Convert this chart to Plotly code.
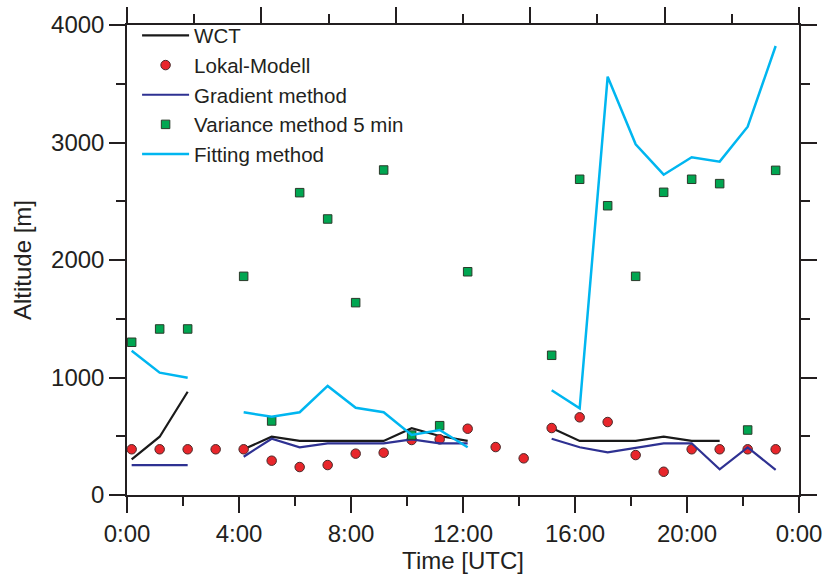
import plotly.graph_objects as go

# --- data ---------------------------------------------------------------
times = ["0:10", "1:10", "2:10", "3:10", "4:10", "5:10", "6:10", "7:10",
         "8:10", "9:10", "10:10", "11:10", "12:10", "13:10", "14:10", "15:10",
         "16:10", "17:10", "18:10", "19:10", "20:10", "21:10", "22:10", "23:10"]

wct = [304, 496, 879, None, 389, 496, 460, 460, 460, 460, 568, 502,
       460, None, None, 570, 460, 460, 460, 496, 460, 460, None, None]
lokal = [389, 389, 389, 389, 389, 292, 238, 255, 352, 360, 468, 474,
         564, 408, 312, 570, 661, 621, 340, 198, 389, 389, 389, 389]
gradient = [255, 255, 255, None, 326, 479, 406, 440, 440, 440, 474, 440,
            440, None, None, 479, 406, 363, 403, 440, 440, 219, 406, 213]
variance = [1300, 1413, 1413, None, 1861, 630, 2573, 2349, 1637, 2766, 510, 590,
            1900, None, None, 1189, 2687, 2462, 1861, 2576, 2687, 2650, 553, 2763]
fitting = [1228, 1041, 998, None, 704, 666, 704, 928, 743, 704, 511, 553,
           406, None, None, 891, 738, 3560, 2985, 2726, 2874, 2837, 3134, 3821]

tick_hours = [0, 4, 8, 12, 16, 20, 24]
tick_labels = ["0:00", "4:00", "8:00", "12:00", "16:00", "20:00", "0:00"]
alt_ticks = [0, 1000, 2000, 3000, 4000]

# ------------------------------------------------------------------------
def to_hours(s):
    h, m = s.split(":")
    return int(h) + int(m) / 60.0

x = [to_hours(t) for t in times]

INK = "#231f20"
FONT = "Liberation Sans, Arial, sans-serif"

fig = go.Figure()
fig.add_trace(go.Scatter(x=x, y=wct, mode="lines", name="WCT",
                         line=dict(color="#1a1a1a", width=2.2), connectgaps=False))
fig.add_trace(go.Scatter(x=x, y=lokal, mode="markers", name="Lokal-Modell",
                         marker=dict(symbol="circle", size=9.5, color="#e8262b",
                                     line=dict(color="#4a2a2a", width=1))))
fig.add_trace(go.Scatter(x=x, y=gradient, mode="lines", name="Gradient method",
                         line=dict(color="#2e3192", width=2.2), connectgaps=False))
fig.add_trace(go.Scatter(x=x, y=variance, mode="markers", name="Variance method 5 min",
                         marker=dict(symbol="square", size=8.5, color="#00a651",
                                     line=dict(color="#2a3a2a", width=1))))
fig.add_trace(go.Scatter(x=x, y=fitting, mode="lines", name="Fitting method",
                         line=dict(color="#00b6f0", width=2.5), connectgaps=False))
# empty trace so the mirrored top/right frame axes get drawn with their ticks
fig.add_trace(go.Scatter(x=[None], y=[None], xaxis="x2", yaxis="y2", mode="lines",
                         showlegend=False, hoverinfo="skip"))

axis_common = dict(showline=True, linecolor=INK, linewidth=1.5, ticks="outside",
                   tickcolor=INK, tickwidth=1.5, ticklen=16, showgrid=False,
                   zeroline=False)
minor_common = dict(ticks="outside", ticklen=9, tickcolor=INK, tickwidth=1.5, showgrid=False)

fig.update_layout(
    width=828, height=577,
    margin=dict(l=127, r=29, t=25, b=82, autoexpand=False),
    paper_bgcolor="white", plot_bgcolor="white",
    font=dict(family=FONT, color=INK, size=24),
    xaxis=dict(range=[0, 24], tickvals=tick_hours, ticktext=tick_labels,
               tickfont=dict(size=24), title=dict(text="Time [UTC]", font=dict(size=24), standoff=6),
               minor=dict(dtick=2, tick0=0, **minor_common),
               **axis_common),
    yaxis=dict(range=[0, 4000], tickvals=alt_ticks,
               tickfont=dict(size=24), title=dict(text="Altitude [m]", font=dict(size=24), standoff=13),
               minor=dict(dtick=500, tick0=0, **minor_common),
               **axis_common),
    xaxis2=dict(overlaying="x", side="top", anchor="y", range=[0, 10],
                tickvals=[0, 2, 4, 6, 8, 10], showticklabels=False,
                minor=dict(dtick=1, tick0=0, **minor_common),
                **axis_common),
    yaxis2=dict(overlaying="y", side="right", anchor="x", range=[0, 4000],
                tickvals=alt_ticks, showticklabels=False,
                minor=dict(dtick=500, tick0=0, **minor_common),
                **axis_common),
    showlegend=True,
    legend=dict(x=0.015, y=1.02, xanchor="left", yanchor="top",
                bgcolor="rgba(0,0,0,0)", font=dict(size=20.5, color=INK),
                itemwidth=47, tracegroupgap=0),
)

fig.write_html("out.html")
